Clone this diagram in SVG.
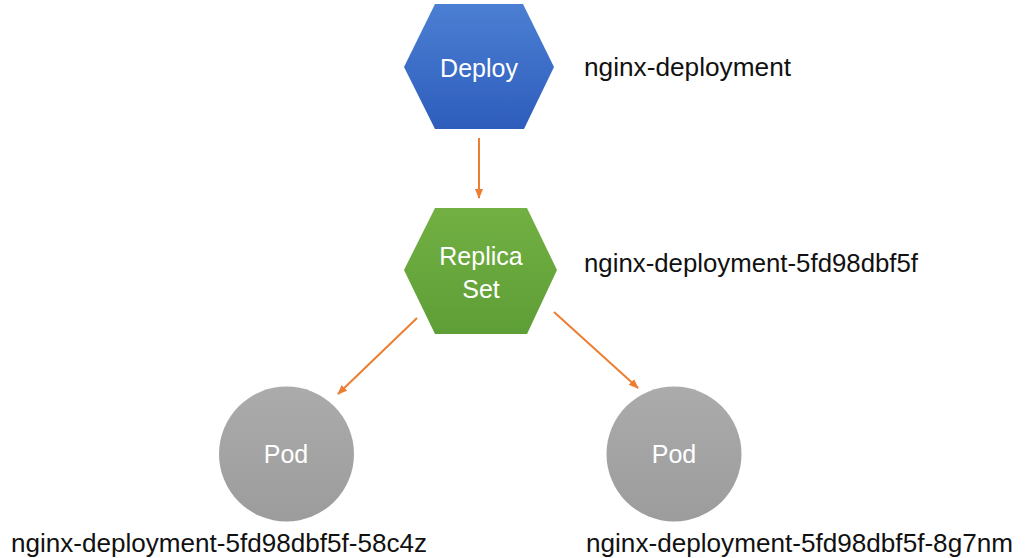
<svg xmlns="http://www.w3.org/2000/svg" width="1026" height="558" viewBox="0 0 1026 558">
<style>
.lbl{font-family:"Liberation Sans","Open Sans",sans-serif;font-size:25px;fill:#111}
.in{font-family:"Liberation Sans","Open Sans",sans-serif;font-size:25px;fill:#fff;text-anchor:middle}
.conn{stroke:#ed7d31;stroke-width:2;fill:none;marker-end:url(#ah)}
</style>
<defs>
<linearGradient id="gb" x1="0" y1="0" x2="0" y2="1"><stop offset="0" stop-color="#4b7fd3"/><stop offset="1" stop-color="#2e5dbc"/></linearGradient>
<linearGradient id="gg" x1="0" y1="0" x2="0" y2="1"><stop offset="0" stop-color="#72b043"/><stop offset="1" stop-color="#5e9e36"/></linearGradient>
<linearGradient id="gp" x1="0" y1="0" x2="0" y2="1"><stop offset="0" stop-color="#ababab"/><stop offset="1" stop-color="#9c9c9c"/></linearGradient>
<marker id="ah" markerWidth="10" markerHeight="8" refX="9" refY="4" orient="auto" markerUnits="userSpaceOnUse"><path d="M0,0 L10,4 L0,8 Z" fill="#ed7d31"/></marker>
</defs>
<rect width="1026" height="558" fill="#fff"/>
<g id="connectors">
<line class="conn" x1="479" y1="138" x2="479" y2="198"/>
<line class="conn" x1="417" y1="318" x2="338" y2="394"/>
<line class="conn" x1="554" y1="312" x2="638" y2="388"/>
</g>
<g id="deploy">
<polygon points="435,4 523,4 554,67 524,129 435,129 404,67" fill="url(#gb)"/>
<text class="in" x="479" y="77">Deploy</text>
<text class="lbl" x="584" y="76" textLength="207" lengthAdjust="spacingAndGlyphs">nginx-deployment</text>
</g>
<g id="replicaset">
<polygon points="435,208 527,208 557,270 527,334 435,334 404,270" fill="url(#gg)"/>
<text class="in" x="481" y="265">Replica</text>
<text class="in" x="481" y="298">Set</text>
<text class="lbl" x="584" y="272" textLength="334" lengthAdjust="spacingAndGlyphs">nginx-deployment-5fd98dbf5f</text>
</g>
<g id="pod1">
<circle cx="286.5" cy="454" r="67.5" fill="url(#gp)"/>
<text class="in" x="286" y="463">Pod</text>
<text class="lbl" x="11" y="552" textLength="416" lengthAdjust="spacingAndGlyphs">nginx-deployment-5fd98dbf5f-58c4z</text>
</g>
<g id="pod2">
<circle cx="674" cy="454" r="67.5" fill="url(#gp)"/>
<text class="in" x="674" y="463">Pod</text>
<text class="lbl" x="586" y="552" textLength="427" lengthAdjust="spacingAndGlyphs">nginx-deployment-5fd98dbf5f-8g7nm</text>
</g>
</svg>
